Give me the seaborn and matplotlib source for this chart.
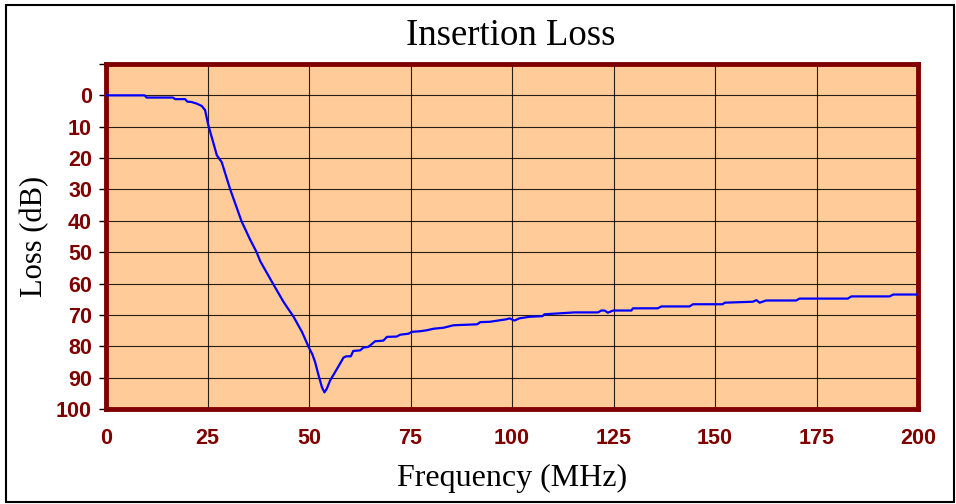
import matplotlib
matplotlib.use("Agg")
import matplotlib.pyplot as plt
import seaborn as sns
from matplotlib.patches import Rectangle
from matplotlib.font_manager import FontProperties

# insertion loss curve (MHz, dB)
freq = [0, 9.5, 10, 16.5, 17, 19.5, 20, 21, 22.3, 23.6, 24.4, 25.2, 26.3, 27.3,
        28.5, 30.6, 33.4, 35.5, 37.1, 38, 40.8, 43.7, 46.2, 48.3, 49.9, 50.8,
        51.5, 52.3, 53.2, 53.8, 54.4, 55.2, 56.9, 58.5, 59.2, 60.3, 60.9, 62.6,
        63.4, 64.6, 66.3, 68.3, 69.2, 71.6, 72.5, 74.5, 75.3, 77.4, 79.0, 80.7,
        83.1, 85.6, 91.4, 92.2, 94.5, 98.6, 99.4, 100.6, 101.8, 104.3, 107.5,
        108, 115.4, 121.2, 122, 122.8, 123.6, 124.9, 129.4, 129.8, 135.9, 136.8,
        143.7, 144.6, 151.9, 152.4, 159.3, 160.2, 161.0, 162.6, 170.0, 170.8,
        182.7, 183.6, 193.0, 193.9, 200]
loss = [0, 0, 0.7, 0.7, 1.2, 1.2, 2.0, 2.1, 2.6, 3.4, 4.7, 9.5, 14.5, 19.1,
        21.3, 30, 40.2, 46, 50, 52.9, 59.3, 65.8, 70.6, 75.5, 80.2, 82.5,
        85.0, 89, 93.1, 94.7, 93.5, 90.9, 87.2, 83.6, 83.2, 83.2, 81.5, 81.3,
        80.4, 80.2, 78.4, 78.2, 77.0, 76.9, 76.3, 76.0, 75.4, 75.2, 74.9, 74.4,
        74.1, 73.3, 73.0, 72.3, 72.2, 71.4, 71.1, 71.8, 71.1, 70.6, 70.4,
        69.8, 69.2, 69.2, 68.6, 68.6, 69.3, 68.6, 68.6, 67.9, 67.9, 67.3,
        67.3, 66.6, 66.6, 66.1, 65.8, 65.3, 66.1, 65.4, 65.4, 64.8,
        64.8, 64.1, 64.1, 63.5, 63.5]

x_ticks = [0, 25, 50, 75, 100, 125, 150, 175, 200]
y_ticks = [-10, 0, 10, 20, 30, 40, 50, 60, 70, 80, 90, 100]
y_labels = ["", "0", "10", "20", "30", "40", "50", "60", "70", "80", "90", "100"]

dark_red = "#800000"

fig = plt.figure(figsize=(9.56, 5.04), dpi=100)
ax = fig.add_axes([106 / 956, 1 - 409 / 504, 812 / 956, 345 / 504])
ax.set_facecolor("#FFCC99")

sns.lineplot(x=freq, y=loss, ax=ax, color="#0000FF", linewidth=1.6,
             sort=False, estimator=None, zorder=3)

ax.set_xlim(0, 200)
ax.set_ylim(100, -10)
ax.set_xticks(x_ticks)
ax.set_yticks(y_ticks)
ax.set_yticklabels(y_labels)
ax.grid(True, color="black", linewidth=0.8, alpha=0.85)
ax.set_axisbelow(True)

for sp in ax.spines.values():
    sp.set_color(dark_red)
    sp.set_linewidth(3.5)

for lab in ax.get_xticklabels() + ax.get_yticklabels():
    lab.set_fontproperties(FontProperties(family="Liberation Sans", weight="bold", size=15.5))
    lab.set_color(dark_red)
ax.tick_params(axis="x", length=0, pad=14)
ax.tick_params(axis="y", length=5, width=1, color="black", pad=5)

ax.set_xlabel("Frequency (MHz)", family="Liberation Serif", fontsize=23, va="center")
ax.set_ylabel("Loss (dB)", family="Liberation Serif", fontsize=22, va="center")
ax.xaxis.set_label_coords(0.5, -69 / 345)
ax.yaxis.set_label_coords(-71 / 812, 0.5)

fig.text(511 / 956, 1 - 36 / 504, "Insertion Loss", family="Liberation Serif",
         fontsize=26.5, ha="center", va="center")

# outer chart frame
fig.patches.append(Rectangle((6 / 956, 2 / 504), 948 / 956, 497 / 504,
                             transform=fig.transFigure, fill=False,
                             edgecolor="black", linewidth=1.5))

fig.savefig("out.png", dpi=100)
